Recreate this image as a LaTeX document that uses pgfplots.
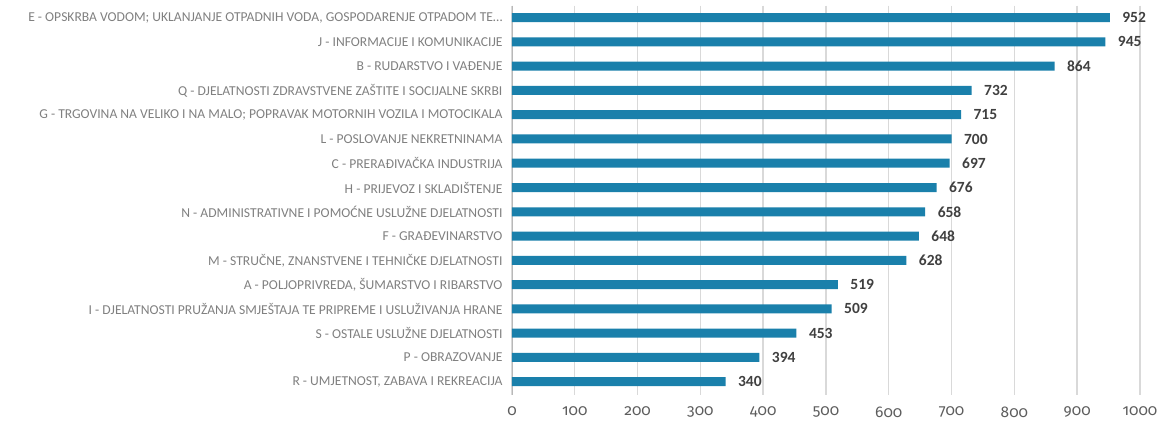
\documentclass[border=0pt]{standalone}
\usepackage{pgfplots}
\pgfplotsset{compat=1.18}
\usepackage{fontspec}
\setmainfont{Carlito}
\newfontfamily\tickfont[Numbers=OldStyle]{Fira Sans}
\definecolor{barblue}{HTML}{1A80AB}
\definecolor{gridgray}{HTML}{D9D9D9}
\definecolor{labgray}{HTML}{808080}
\definecolor{valgray}{HTML}{404040}
\begin{document}
\begin{tikzpicture}
\path[use as bounding box] (-512pt,-31pt) rectangle (650pt,395pt);
\begin{axis}[
    at={(0,0)}, anchor=south west,
    scale only axis,
    width=628pt, height=389.5pt,
    xbar, bar width=9pt,
    xmin=0, xmax=1000,
    ymin=-0.5, ymax=15.55,
    y dir=reverse,
    xtick={0,100,200,300,400,500,600,700,800,900,1000},
    ytick={0,1,2,3,4,5,6,7,8,9,10,11,12,13,14,15},
    yticklabels={
        {E - OPSKRBA VODOM; UKLANJANJE OTPADNIH VODA, GOSPODARENJE OTPADOM TE…},
        {J - INFORMACIJE I KOMUNIKACIJE},
        {B - RUDARSTVO I VAĐENJE},
        {Q - DJELATNOSTI ZDRAVSTVENE ZAŠTITE I SOCIJALNE SKRBI},
        {G - TRGOVINA NA VELIKO I NA MALO; POPRAVAK MOTORNIH VOZILA I MOTOCIKALA},
        {L - POSLOVANJE NEKRETNINAMA},
        {C - PRERAĐIVAČKA INDUSTRIJA},
        {H - PRIJEVOZ I SKLADIŠTENJE},
        {N - ADMINISTRATIVNE I POMOĆNE USLUŽNE DJELATNOSTI},
        {F - GRAĐEVINARSTVO},
        {M - STRUČNE, ZNANSTVENE I TEHNIČKE DJELATNOSTI},
        {A - POLJOPRIVREDA, ŠUMARSTVO I RIBARSTVO},
        {I - DJELATNOSTI PRUŽANJA SMJEŠTAJA TE PRIPREME I USLUŽIVANJA HRANE},
        {S - OSTALE USLUŽNE DJELATNOSTI},
        {P - OBRAZOVANJE},
        {R - UMJETNOST, ZABAVA I REKREACIJA}},
    axis lines*=left,
    x axis line style={draw=none},
    y axis line style={draw=gridgray!85!black, line width=0.8pt},
    major tick length=0pt,
    xmajorgrids,
    grid style={draw=gridgray, line width=1.4pt},
    /pgf/number format/assume math mode=true,
    /pgf/number format/set thousands separator={},
    xticklabel style={font=\tickfont\fontsize{15.5}{18}\selectfont, text=valgray!85, yshift=-8pt},
    yticklabel style={font=\fontsize{13.6}{16}\selectfont, text=labgray, xshift=-6pt},
    nodes near coords,
    nodes near coords style={font=\bfseries\fontsize{15.5}{18}\selectfont, text=valgray, anchor=west, xshift=9pt},
]
\addplot[fill=barblue, draw=none] coordinates {
    (952,0) (945,1) (864,2) (732,3) (715,4) (700,5) (697,6) (676,7)
    (658,8) (648,9) (628,10) (519,11) (509,12) (453,13) (394,14) (340,15)
};
\end{axis}
\end{tikzpicture}
\end{document}
